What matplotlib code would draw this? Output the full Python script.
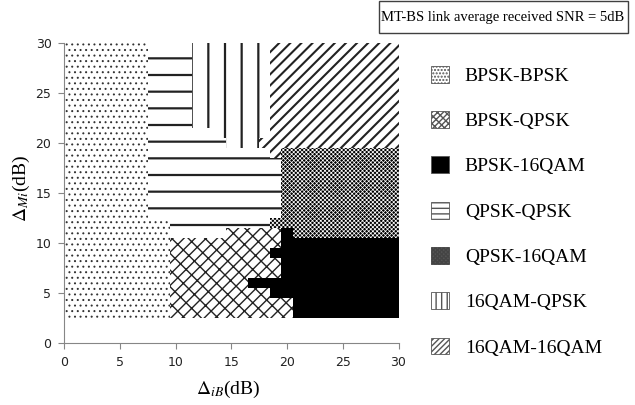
import numpy as np
import matplotlib
matplotlib.use('Agg')
import matplotlib.pyplot as plt
from matplotlib.patches import Patch, Rectangle

# mode pairs, in legend order
regions = ['BPSK-BPSK', 'BPSK-QPSK', 'BPSK-16QAM', 'QPSK-QPSK',
           'QPSK-16QAM', '16QAM-QPSK', '16QAM-16QAM']

# grid of the map (dB, 1 dB steps)
delta_iB = np.arange(0, 31)
delta_Mi = np.arange(3, 31)

# chosen pair along delta_iB, for bands of delta_Mi
# (first dMi, last dMi, [(region index, last dIB of the run), ...])
bands = [
    (3, 4, [(0, 9), (1, 20), (2, 30)]),
    (5, 5, [(0, 9), (1, 18), (2, 30)]),
    (6, 6, [(0, 9), (1, 16), (2, 30)]),
    (7, 8, [(0, 9), (1, 19), (2, 30)]),
    (9, 9, [(0, 9), (1, 18), (2, 30)]),
    (10, 10, [(0, 9), (1, 19), (2, 30)]),
    (11, 11, [(0, 9), (3, 14), (1, 19), (2, 20), (4, 30)]),
    (12, 12, [(0, 9), (3, 18), (4, 30)]),
    (13, 18, [(0, 7), (3, 19), (4, 30)]),
    (19, 19, [(0, 7), (3, 18), (6, 19), (4, 30)]),
    (20, 20, [(0, 7), (3, 14), (5, 17), (6, 30)]),
    (21, 21, [(0, 7), (3, 13), (5, 18), (6, 30)]),
    (22, 30, [(0, 7), (3, 11), (5, 18), (6, 30)]),
]

# look of each region (map / legend hatches)
face = ['white', 'white', 'black', 'white', 'black', 'white', 'white']
hcol = ['#333333', '#222222', 'black', '#222222', 'white', '#222222', '#222222']
hatch = ['...', '///\\\\', None, '-', 'xxxxxxxx', '|', '///']
hlw = [0.7, 1.0, 1.0, 1.6, 0.5, 1.6, 1.5]
leg_hatch = ['.....', '//////\\\\\\\\', None, '---', 'xxxxxxxx', '|||', '//////']

plt.rcParams['mathtext.fontset'] = 'stix'
serif = ['Liberation Serif', 'DejaVu Serif']

fig = plt.figure(figsize=(6.35, 4.05), dpi=100)
ax = fig.add_axes([64 / 635, 1 - 342.5 / 405, 334.5 / 635, 300 / 405])

for y0, y1, runs in bands:
    start = delta_iB[0]
    for r, end in runs:
        with plt.rc_context({'hatch.linewidth': hlw[r]}):
            ax.barh((y0 + y1) / 2, end - start + 1, left=start - 0.5,
                    height=y1 - y0 + 1, color=face[r], edgecolor=hcol[r],
                    hatch=hatch[r], linewidth=0, antialiased=False)
        start = end + 1

ax.set_xlim(0, 30)
ax.set_ylim(0, 30)
ax.set_xticks(np.arange(0, 31, 5))
ax.set_yticks(np.arange(0, 31, 5))
for s in ['top', 'right']:
    ax.spines[s].set_visible(False)
for s in ['left', 'bottom']:
    ax.spines[s].set_color('#868686')
    ax.spines[s].set_linewidth(0.8)
ax.tick_params(direction='out', length=4, color='#868686', labelsize=9,
               labelcolor='#222222')
ax.tick_params(axis='y', pad=5)
ax.tick_params(axis='x', pad=6)

ax.set_xlabel(r'$\Delta_{iB}$(dB)', fontsize=14, family=serif, va='center')
ax.set_ylabel(r'$\Delta_{Mi}$(dB)', fontsize=14, family=serif, va='center')
ax.xaxis.set_label_coords(0.49, -0.158)
ax.yaxis.set_label_coords(-0.126, 0.515)

handles = []
for r in range(len(regions)):
    with plt.rc_context({'hatch.linewidth': 0.5}):
        handles.append(Patch(facecolor=face[r], edgecolor='#555555' if r != 4 else '#444444',
                             hatch=leg_hatch[r], linewidth=0.6))
handles[4].set_facecolor('#555555')
handles[4].set_hatch('xxxxxxxx')
fig.legend(handles, regions, loc='upper left', bbox_to_anchor=(423 / 635, 1 - 58 / 405),
           frameon=False, prop={'family': serif, 'size': 14},
           handlelength=0.95, handleheight=0.95, labelspacing=1.35,
           handletextpad=0.8, borderaxespad=0)

fig.add_artist(Rectangle((379 / 635, 1 - 33 / 405), 249 / 635, 32 / 405,
                         transform=fig.transFigure, fill=False,
                         edgecolor='#404040', linewidth=1))
fig.text(503 / 635, 1 - 17 / 405, 'MT-BS link average received SNR = 5dB',
         ha='center', va='center', fontsize=10.5, family=serif)

fig.savefig('out.png', dpi=100)
